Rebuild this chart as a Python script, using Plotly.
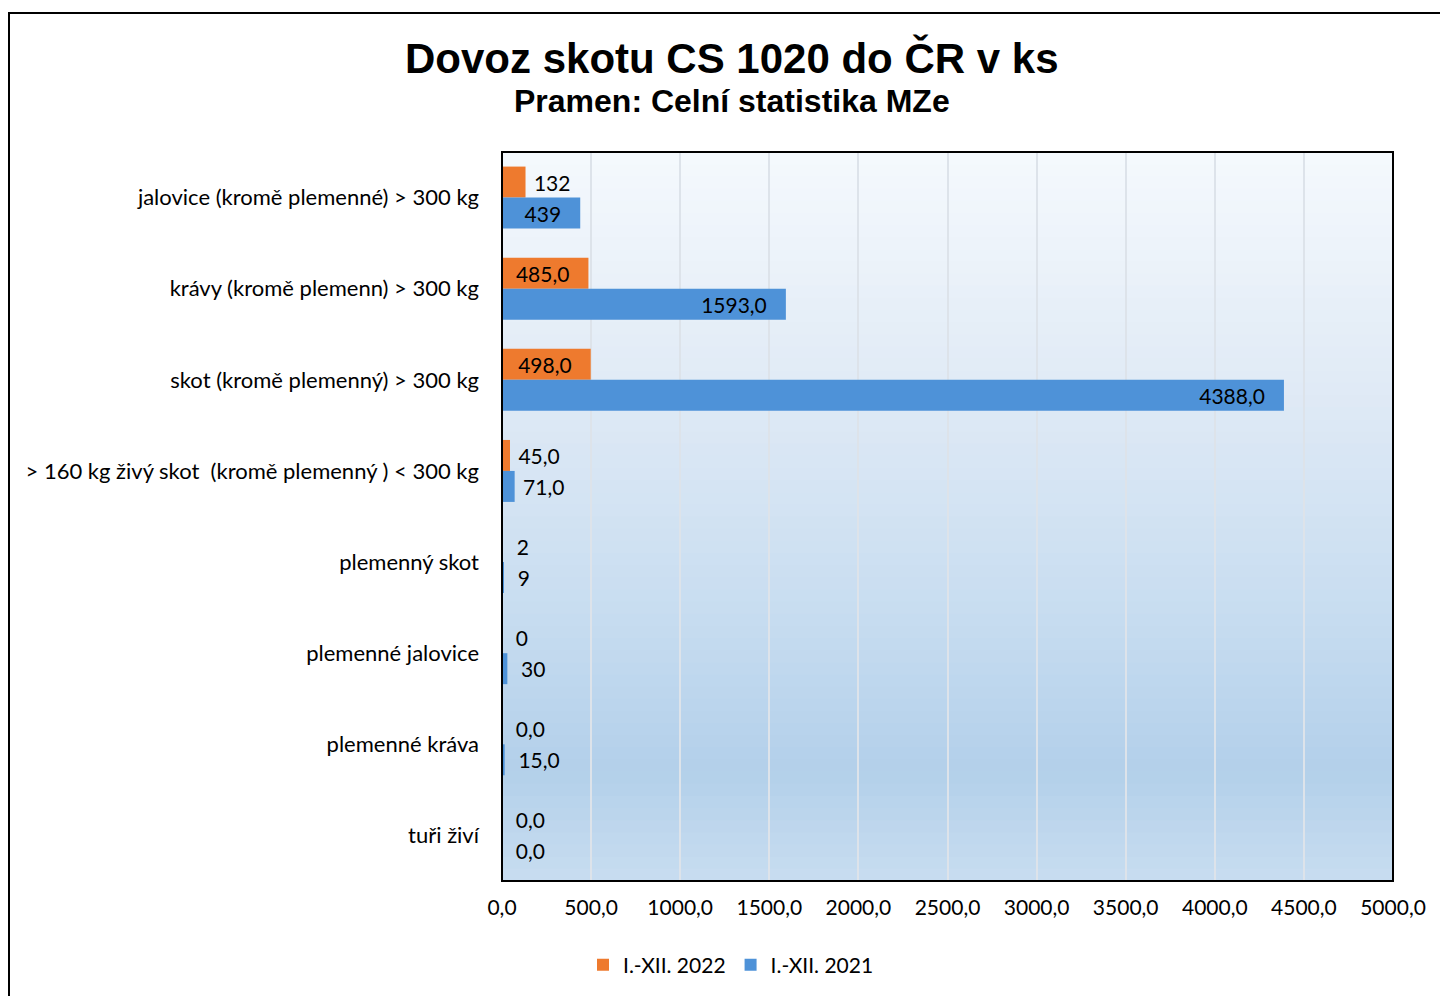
import plotly.graph_objects as go

categories = [
    "jalovice (kromě plemenné) > 300 kg",
    "krávy (kromě plemenn) > 300 kg",
    "skot (kromě plemenný) > 300 kg",
    "> 160 kg živý skot  (kromě plemenný ) < 300 kg",
    "plemenný skot",
    "plemenné jalovice",
    "plemenné kráva",
    "tuři živí",
]
values_2022 = [132, 485, 498, 45, 2, 0, 0, 0]
values_2021 = [439, 1593, 4388, 71, 9, 30, 15, 0]
labels_2022 = ["132", "485,0", "498,0", "45,0", "2", "0", "0,0", "0,0"]
labels_2021 = ["439", "1593,0", "4388,0", "71,0", "9", "30", "15,0", "0,0"]
series_names = ["I.-XII. 2022", "I.-XII. 2021"]
x_ticks = [0, 500, 1000, 1500, 2000, 2500, 3000, 3500, 4000, 4500, 5000]
x_ticktext = ["0,0", "500,0", "1000,0", "1500,0", "2000,0", "2500,0",
              "3000,0", "3500,0", "4000,0", "4500,0", "5000,0"]

NB = "\u00a0"


def make_text(vals, labels):
    txt, pos = [], []
    for v, l in zip(vals, labels):
        if v >= 300:
            txt.append(l + NB * 3)
            pos.append("inside")
        elif v < 40:
            txt.append(NB * 2 + l)
            pos.append("outside")
        else:
            txt.append(NB + l)
            pos.append("outside")
    return txt, pos


t22, p22 = make_text(values_2022, labels_2022)
t21, p21 = make_text(values_2021, labels_2021)

font_family = "Lato, 'Noto Sans', sans-serif"

fig = go.Figure()
fig.add_trace(go.Bar(
    y=categories, x=values_2022, orientation="h", name=series_names[0],
    marker=dict(color="#EE7A2E", line=dict(width=0)),
    text=t22, textposition=p22, insidetextanchor="end", cliponaxis=False,
    textfont=dict(size=21, color="black", family=font_family),
))
fig.add_trace(go.Bar(
    y=categories, x=values_2021, orientation="h", name=series_names[1],
    marker=dict(color="#4E92D8", line=dict(width=0)),
    text=t21, textposition=p21, insidetextanchor="end", cliponaxis=False,
    textfont=dict(size=21, color="black", family=font_family),
))

# background gradient for plot area
stops = [(0.0, (245, 249, 253)), (0.35, (222, 233, 245)), (0.6, (202, 222, 241)),
         (0.85, (179, 208, 234)), (1.0, (200, 221, 240))]


def color_at(f):
    for (f0, c0), (f1, c1) in zip(stops[:-1], stops[1:]):
        if f0 <= f <= f1:
            t = (f - f0) / (f1 - f0) if f1 > f0 else 0
            return "rgb(%d,%d,%d)" % tuple(round(a + (b - a) * t) for a, b in zip(c0, c1))
    return "rgb(%d,%d,%d)" % stops[-1][1]


shapes = []
N = 60
for i in range(N):
    f = (i + 0.5) / N
    shapes.append(dict(type="rect", xref="x domain", yref="y domain",
                       x0=0, x1=1, y0=1 - (i + 1) / N - 0.001, y1=1 - i / N,
                       fillcolor=color_at(f), line=dict(width=0), layer="below"))
# plot border
shapes.append(dict(type="rect", xref="x domain", yref="y domain", x0=0, x1=1, y0=0, y1=1,
                   line=dict(color="black", width=2), layer="above"))
# outer frame (extends past right and bottom edges)
shapes.append(dict(type="rect", xref="paper", yref="paper",
                   x0=(9 - 502) / 891, x1=1.3, y0=-0.4, y1=(881 - 13) / 729,
                   line=dict(color="black", width=2), layer="above"))

OFF = 8  # page body margin
fig.update_layout(
    width=1440, height=988,
    margin=dict(l=502 - OFF, r=55, t=152 - OFF, b=115),
    paper_bgcolor="white", plot_bgcolor="rgba(0,0,0,0)",
    barmode="group", bargap=0.32, bargroupgap=0,
    shapes=shapes,
    font=dict(family=font_family, size=21, color="black"),
    showlegend=True,
    legend=dict(orientation="h", xref="container", yref="container",
                x=(731 - OFF) / 1440, y=(988 - (965 - OFF)) / 988,
                xanchor="center", yanchor="middle",
                font=dict(size=21, family=font_family), itemwidth=30,
                traceorder="normal"),
    annotations=[
        dict(text="<b>Dovoz skotu CS 1020 do ČR v ks</b>", xref="paper", yref="paper",
             x=(732 - 502) / 891, y=(881 - 58) / 729, xanchor="center", yanchor="middle",
             showarrow=False, font=dict(size=42, family="Liberation Sans, Arial", color="black")),
        dict(text="<b>Pramen: Celní statistika MZe</b>", xref="paper", yref="paper",
             x=(732 - 502) / 891, y=(881 - 101) / 729, xanchor="center", yanchor="middle",
             showarrow=False, font=dict(size=32, family="Liberation Sans, Arial", color="black")),
    ],
)
fig.update_xaxes(range=[0, 5000], tickvals=x_ticks, ticktext=x_ticktext,
                 showgrid=True, gridcolor="#dde3ea", gridwidth=2, zeroline=False,
                 showline=False, ticks="", ticklabelstandoff=12,
                 tickfont=dict(size=21, family=font_family))
fig.update_yaxes(autorange="reversed", showgrid=False, zeroline=False, showline=False,
                 ticks="", ticklabelstandoff=22, tickfont=dict(size=22, family=font_family))

fig.write_html("out.html")
